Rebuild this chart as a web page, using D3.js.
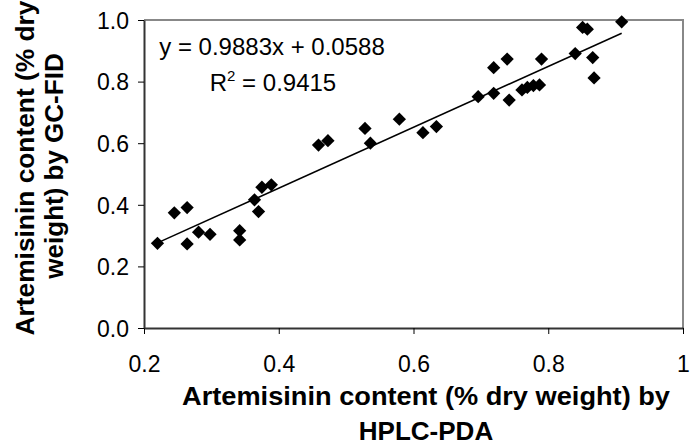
<!DOCTYPE html>
<html><head><meta charset="utf-8">
<script src="https://cdn.jsdelivr.net/npm/d3@7"></script>
<style>body{margin:0;background:#fff}svg{display:block}text{font-family:"Liberation Sans",Arial,sans-serif}</style>
</head><body>
<svg id="c" width="691" height="448"></svg>
<script>
const hplc = [0.220,0.245,0.264,0.264,0.281,0.298,0.342,0.342,0.364,0.370,0.375,0.389,0.459,0.473,0.528,0.536,0.579,0.614,0.634,0.696,0.719,0.739,0.719,0.742,0.761,0.769,0.778,0.787,0.790,0.840,0.851,0.858,0.866,0.868,0.909];
const gcfid = [0.275,0.374,0.391,0.273,0.311,0.304,0.316,0.286,0.416,0.378,0.457,0.465,0.594,0.608,0.648,0.600,0.678,0.634,0.654,0.751,0.845,0.873,0.762,0.740,0.773,0.781,0.787,0.789,0.873,0.891,0.976,0.970,0.878,0.812,0.994];
const xTicks = [0.2,0.4,0.6,0.8,1.0];
const xTickLabels = ["0.2","0.4","0.6","0.8","1"];
const yTicks = [0,0.2,0.4,0.6,0.8,1.0];
const yTickLabels = ["0.0","0.2","0.4","0.6","0.8","1.0"];
const slope = [0.9883];
const intercept = [0.0588];
const eqText = "y = 0.9883x + 0.0588";
const r2Text = "0.9415";
const xTitle = ["Artemisinin content (% dry weight) by","HPLC-PDA"];
const yTitle = ["Artemisinin content (% dry","weight) by GC-FID"];

const svg = d3.select("#c");
const L=144,R=683,T=20,B=328;
const x = d3.scaleLinear().domain([0.2,1]).range([L,R]);
const y = d3.scaleLinear().domain([0,1]).range([B,T]);

// plot border (top/right gray)
svg.append("path").attr("d",`M${L},${T}H${R}V${B}`).attr("fill","none").attr("stroke","#888").attr("stroke-width",2);

// axes
const xa = svg.append("g").attr("transform",`translate(0,${B})`)
  .call(d3.axisBottom(x).tickValues(xTicks).tickSize(6).tickSizeOuter(0).tickFormat((d,i)=>xTickLabels[i]));
const ya = svg.append("g").attr("transform",`translate(${L},0)`)
  .call(d3.axisLeft(y).tickValues(yTicks).tickSize(6).tickSizeOuter(0).tickFormat((d,i)=>yTickLabels[i]));
[xa,ya].forEach(g=>{
  g.select(".domain").attr("stroke","#333").attr("stroke-width",2);
  g.selectAll(".tick line").attr("stroke","#000").attr("stroke-width",1);
  g.selectAll(".tick text").attr("font-size",23).attr("fill","#000").attr("font-family","Liberation Sans, Arial");
});
xa.selectAll(".tick text").attr("dy",null).attr("y",44);
ya.selectAll(".tick text").attr("x",-15).attr("dy","0.36em");

// trendline
const xe = d3.extent(hplc);
svg.append("line").attr("x1",x(xe[0])).attr("y1",y(slope[0]*xe[0]+intercept[0]))
  .attr("x2",x(xe[1])).attr("y2",y(slope[0]*xe[1]+intercept[0]))
  .attr("stroke","#000").attr("stroke-width",1.5);

// points
const sym = d3.symbol().type(d3.symbolSquare).size(88);
svg.append("g").selectAll("path").data(hplc).join("path")
  .attr("d",sym())
  .attr("transform",(d,i)=>`translate(${x(d)},${y(gcfid[i])}) rotate(45)`)
  .attr("fill","#000");

// equation
svg.append("text").attr("x",272).attr("y",55).attr("text-anchor","middle").attr("font-size",24).text(eqText);
const r2 = svg.append("text").attr("x",273).attr("y",91).attr("text-anchor","middle").attr("font-size",24);
r2.append("tspan").text("R");
r2.append("tspan").attr("font-size",15).attr("dy",-10).text("2");
r2.append("tspan").attr("dy",10).text(" = "+r2Text);

// x title
svg.append("text").attr("x",426).attr("y",405).attr("text-anchor","middle").attr("font-size",26).attr("font-weight","bold")
  .attr("textLength",488).attr("lengthAdjust","spacingAndGlyphs").text(xTitle[0]);
svg.append("text").attr("x",426).attr("y",440).attr("text-anchor","middle").attr("font-size",26).attr("font-weight","bold")
  .text(xTitle[1]);

// y title
svg.append("text").attr("transform","translate(34,168) rotate(-90)").attr("text-anchor","middle").attr("font-size",26).attr("font-weight","bold")
  .attr("textLength",335).attr("lengthAdjust","spacingAndGlyphs").text(yTitle[0]);
svg.append("text").attr("transform","translate(63,166) rotate(-90)").attr("text-anchor","middle").attr("font-size",26).attr("font-weight","bold")
  .text(yTitle[1]);
</script>
</body></html>
